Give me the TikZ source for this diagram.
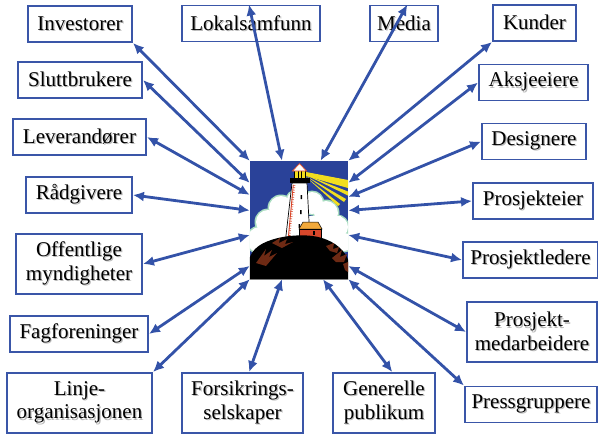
\documentclass[tikz,border=0pt]{standalone}
\usepackage{fontspec}
\setmainfont{Liberation Serif}
\usetikzlibrary{arrows.meta}

\definecolor{frameblue}{HTML}{3A56A8}
\definecolor{linkblue}{HTML}{3352A8}
\definecolor{nightblue}{HTML}{2A4299}
\definecolor{rockbrown}{HTML}{6E2A14}
\definecolor{beamyellow}{HTML}{F2DE1E}
\definecolor{roofgold}{HTML}{F2A93A}
\definecolor{housered}{HTML}{D8472B}
\definecolor{cloudrim}{HTML}{A8DCC0}

\newcommand{\shd}[1]{\rlap{\kern1.2pt\raisebox{-1.2pt}{\color{black!28}#1}}#1}

\begin{document}
\begin{tikzpicture}[x=1pt, y=-1pt,
    party/.style={rectangle, draw=frameblue, line width=1.9pt, fill=white, align=center,
        font=\fontsize{21}{23.5}\selectfont, inner xsep=0pt, inner ysep=5pt, minimum height=36pt},
    tall/.style={party, minimum height=60pt},
    line/.style={draw, {Latex[length=11pt,width=10pt]}-{Latex[length=11pt,width=10pt]}, line width=2.8pt, linkblue}
]
    \useasboundingbox (0,0) rectangle (598,434);

    \node[party, minimum width=104pt] (inv) at (80,24) {\shd{Investorer}};
    \node[party, minimum width=138pt] (lok) at (251,23.5) {\shd{Lokalsamfunn}};
    \node[party, minimum width=68pt] (med) at (404,23.5) {\shd{Media}};
    \node[party, minimum width=83pt] (kun) at (534.5,23) {\shd{Kunder}};
    \node[party, minimum width=124pt] (slu) at (80,80) {\shd{Sluttbrukere}};
    \node[party, minimum width=109pt] (aks) at (533.5,82.5) {\shd{Aksjeeiere}};
    \node[party, minimum width=133pt] (lev) at (79.5,137) {\shd{Leverandører}};
    \node[party, minimum width=104pt] (des) at (534,141.5) {\shd{Designere}};
    \node[party, minimum width=106pt] (rad) at (79,195) {\shd{Rådgivere}};
    \node[party, minimum width=120pt] (eier) at (533,201) {\shd{Prosjekteier}};
    \node[tall, minimum width=126pt] (off) at (79,264) {\shd{Offentlige}\\\shd{myndigheter}};
    \node[party, minimum width=135pt] (led) at (530.5,260) {\shd{Prosjektledere}};
    \node[party, minimum width=138pt] (fag) at (79,334) {\shd{Fagforeninger}};
    \node[tall, minimum width=130pt] (medarb) at (532,332) {\shd{Prosjekt-}\\\shd{medarbeidere}};
    \node[party, minimum width=132pt] (press) at (531,404.5) {\shd{Pressgruppere}};
    \node[tall, minimum width=145pt] (linje) at (79.5,403) {\shd{Linje-}\\\shd{organisasjonen}};
    \node[tall, minimum width=121pt] (fors) at (242.5,403) {\shd{Forsikrings-}\\\shd{selskaper}};
    \node[tall, minimum width=102pt] (gen) at (384,403) {\shd{Generelle}\\\shd{publikum}};

    \node[rectangle, fill=nightblue, inner sep=0pt, minimum width=98pt, minimum height=118pt] (beacon) at (299,220) {};
    \begin{scope}
        \clip (beacon.north west) rectangle (beacon.south east);
        \foreach \cx/\cy/\r in {260/240/13, 268/222/12, 281/208/12, 296/200/9, 312/203/11, 326/213/12, 337/227/11, 344/242/9}
            \fill[cloudrim] (\cx,\cy) circle[radius=\r pt+1.5pt];
        \foreach \cx/\cy/\r in {260/240/13, 268/222/12, 281/208/12, 296/200/9, 312/203/11, 326/213/12, 337/227/11, 344/242/9}
            \fill[white] (\cx,\cy) circle[radius=\r pt];
        \fill[white] (262,216) rectangle (341,262);

        \fill[beamyellow] (306,172) -- (348,180) -- (348,188) -- (306,176) -- cycle;
        \fill[beamyellow] (306,175) -- (348,191.5) -- (348,195.5) -- cycle;
        \fill[beamyellow] (306,176) -- (346,199) -- (344,202) -- cycle;
        \fill[beamyellow] (306,177) -- (340,204) -- (338,206) -- cycle;

        \fill[white, draw=black, line width=0.7pt] (292,183) -- (307,183) -- (310,240) -- (285.5,240) -- cycle;
        \draw[housered, line width=0.9pt] (293.3,185) -- (288.3,238);
        \draw[housered, line width=2.4pt, dash pattern=on 0.6pt off 1.8pt] (294.1,185) -- (289.1,238);
        \fill[black] (300.5,195) rectangle (302,199) (300,210) rectangle (301.5,214) (298.5,224) rectangle (300,228);
        \fill[black] (289.5,178) rectangle (309.5,183);
        \fill[beamyellow, draw=black, line width=0.7pt] (294,170) rectangle (305.5,178);
        \draw[black, line width=0.7pt] (298,170) -- (298,178) (301.5,170) -- (301.5,178);
        \fill[white, draw=housered, line width=0.7pt] (292.5,171) -- (299.5,163.5) -- (306.5,171) -- cycle;

        \fill[roofgold, draw=black, line width=0.5pt] (299,229) -- (303,222) -- (318,222) -- (322,229) -- cycle;
        \fill[housered, draw=black, line width=0.5pt] (299.5,229) rectangle (321,241);
        \fill[black] (313,231) rectangle (315,235);

        \fill[black] (249,281) -- (249,260) .. controls (252,248) and (262,242) .. (278,238)
            .. controls (290,235) and (310,234) .. (322,238)
            .. controls (335,242) and (345,250) .. (349,262) -- (349,281) -- cycle;
        \fill[rockbrown] (256,263) -- (266,249) -- (264,256) -- (272,250) -- (269,257) -- (277,253) -- (266,266) -- cycle;
        \fill[rockbrown] (272,243) -- (280,238) -- (279,243) -- (287,239) -- (285,244) -- (293,242) -- (282,248) -- cycle;
        \fill[rockbrown] (326,246) -- (334,243) -- (333,249) -- (339,247) -- (337,253) -- (330,251) -- cycle;
        \fill[rockbrown] (332,258) -- (342,250) -- (340,257) -- (347,254) -- (344,262) -- (336,262) -- cycle;
        \fill[rockbrown] (343,264) -- (348,262) -- (348,272) -- (345,270) -- cycle;
        \draw[gray, line width=1pt] (beacon.south west) -- (beacon.south east);
    \end{scope}

    \path[line] (inv.south east) -- (beacon.north west);
    \path[line] (lok.96) -- (beacon.106);
    \path[line] (med.80) -- (beacon.70);
    \path[line] (kun.south west) -- (beacon.north east);
    \path[line] (slu.east) -- (beacon.143);
    \path[line] (lev.east) -- (beacon.153);
    \path[line] (rad.east) -- (beacon.169);
    \path[line] (off.east) -- (beacon.197);
    \path[line] (fag.east) -- (beacon.223);
    \path[line] (linje.north east) -- (beacon.south west);
    \path[line] (fors.78) -- (beacon.254);
    \path[line] (gen.75) -- (beacon.292);
    \path[line] (press.north west) -- (beacon.south east);
    \path[line] (medarb.west) -- (beacon.317);
    \path[line] (led.west) -- (beacon.343);
    \path[line] (eier.west) -- (beacon.11);
    \path[line] (des.west) -- (beacon.25);
    \path[line] (aks.west) -- (beacon.37);
\end{tikzpicture}
\end{document}
